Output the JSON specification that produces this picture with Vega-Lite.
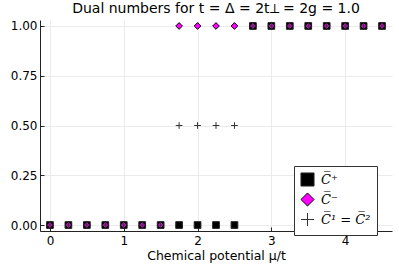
{
  "$schema": "https://vega.github.io/schema/vega-lite/v6.json",
  "width": 352,
  "height": 211,
  "autosize": {"type": "none"},
  "padding": {"left": 40, "top": 20, "right": 7, "bottom": 35},
  "background": "white",
  "title": {"text": "Dual numbers for t = Δ = 2t⟂ = 2g = 1.0", "font": "DejaVu Sans", "fontSize": 14, "fontWeight": "normal", "color": "black", "anchor": "middle", "offset": 4},
  "data": {"values": [
    {"x": 0, "y": 0, "s": "C+"}, {"x": 0.25, "y": 0, "s": "C+"}, {"x": 0.5, "y": 0, "s": "C+"}, {"x": 0.75, "y": 0, "s": "C+"},
    {"x": 1, "y": 0, "s": "C+"}, {"x": 1.25, "y": 0, "s": "C+"}, {"x": 1.5, "y": 0, "s": "C+"}, {"x": 1.75, "y": 0, "s": "C+"},
    {"x": 2, "y": 0, "s": "C+"}, {"x": 2.25, "y": 0, "s": "C+"}, {"x": 2.5, "y": 0, "s": "C+"}, {"x": 2.75, "y": 1, "s": "C+"},
    {"x": 3, "y": 1, "s": "C+"}, {"x": 3.25, "y": 1, "s": "C+"}, {"x": 3.5, "y": 1, "s": "C+"}, {"x": 3.75, "y": 1, "s": "C+"},
    {"x": 4, "y": 1, "s": "C+"}, {"x": 4.25, "y": 1, "s": "C+"}, {"x": 4.5, "y": 1, "s": "C+"},
    {"x": 0, "y": 0, "s": "C-"}, {"x": 0.25, "y": 0, "s": "C-"}, {"x": 0.5, "y": 0, "s": "C-"}, {"x": 0.75, "y": 0, "s": "C-"},
    {"x": 1, "y": 0, "s": "C-"}, {"x": 1.25, "y": 0, "s": "C-"}, {"x": 1.5, "y": 0, "s": "C-"}, {"x": 1.75, "y": 1, "s": "C-"},
    {"x": 2, "y": 1, "s": "C-"}, {"x": 2.25, "y": 1, "s": "C-"}, {"x": 2.5, "y": 1, "s": "C-"}, {"x": 2.75, "y": 1, "s": "C-"},
    {"x": 3, "y": 1, "s": "C-"}, {"x": 3.25, "y": 1, "s": "C-"}, {"x": 3.5, "y": 1, "s": "C-"}, {"x": 3.75, "y": 1, "s": "C-"},
    {"x": 4, "y": 1, "s": "C-"}, {"x": 4.25, "y": 1, "s": "C-"}, {"x": 4.5, "y": 1, "s": "C-"},
    {"x": 0, "y": 0, "s": "C1"}, {"x": 0.25, "y": 0, "s": "C1"}, {"x": 0.5, "y": 0, "s": "C1"}, {"x": 0.75, "y": 0, "s": "C1"},
    {"x": 1, "y": 0, "s": "C1"}, {"x": 1.25, "y": 0, "s": "C1"}, {"x": 1.5, "y": 0, "s": "C1"}, {"x": 1.75, "y": 0.5, "s": "C1"},
    {"x": 2, "y": 0.5, "s": "C1"}, {"x": 2.25, "y": 0.5, "s": "C1"}, {"x": 2.5, "y": 0.5, "s": "C1"}, {"x": 2.75, "y": 1, "s": "C1"},
    {"x": 3, "y": 1, "s": "C1"}, {"x": 3.25, "y": 1, "s": "C1"}, {"x": 3.5, "y": 1, "s": "C1"}, {"x": 3.75, "y": 1, "s": "C1"},
    {"x": 4, "y": 1, "s": "C1"}, {"x": 4.25, "y": 1, "s": "C1"}, {"x": 4.5, "y": 1, "s": "C1"}
  ]},
  "mark": {"type": "point", "size": 45, "strokeWidth": 1, "opacity": 1},
  "encoding": {
    "x": {"field": "x", "type": "quantitative", "scale": {"domain": [-0.135, 4.635], "nice": false, "zero": false},
      "axis": {"title": "Chemical potential μ/t", "values": [0, 1, 2, 3, 4], "format": "d", "grid": true, "gridColor": "#ebebeb", "domainColor": "#222", "tickColor": "#222", "tickSize": -4, "labelPadding": 8, "labelFont": "DejaVu Sans", "labelFontSize": 12, "labelColor": "black", "titleFont": "DejaVu Sans", "titleFontSize": 12.5, "titleFontWeight": "normal", "titleColor": "black", "titlePadding": 3}},
    "y": {"field": "y", "type": "quantitative", "scale": {"domain": [-0.03, 1.03], "nice": false, "zero": false},
      "axis": {"title": null, "values": [0, 0.25, 0.5, 0.75, 1], "format": ".2f", "grid": true, "gridColor": "#ebebeb", "domainColor": "#222", "tickColor": "#222", "tickSize": -4, "labelPadding": 7, "labelFont": "DejaVu Sans", "labelFontSize": 12, "labelColor": "black"}},
    "shape": {"field": "s", "type": "nominal", "scale": {"domain": ["C+", "C-", "C1"], "range": ["square", "diamond", "M-1,0L1,0M0,-1L0,1"]},
      "legend": {"title": null, "orient": "none", "legendX": 254, "legendY": 146, "labelExpr": "datum.value == 'C+' ? 'C̅⁺' : datum.value == 'C-' ? 'C̅⁻' : 'C̅¹ = C̅²'", "labelFont": "DejaVu Serif", "labelFontStyle": "italic", "labelFontSize": 13, "labelColor": "black", "symbolSize": 170, "symbolStrokeWidth": 1, "rowPadding": 1, "padding": 6, "strokeColor": "#333", "fillColor": "white", "cornerRadius": 0, "symbolOpacity": 1, "labelOffset": 6}},
    "fill": {"field": "s", "type": "nominal", "scale": {"domain": ["C+", "C-", "C1"], "range": ["black", "#ff00ff", "transparent"]}, "legend": null},
    "stroke": {"field": "s", "type": "nominal", "scale": {"domain": ["C+", "C-", "C1"], "range": ["#222", "black", "#333"]}, "legend": null}
  },
  "config": {"view": {"stroke": null}}
}
